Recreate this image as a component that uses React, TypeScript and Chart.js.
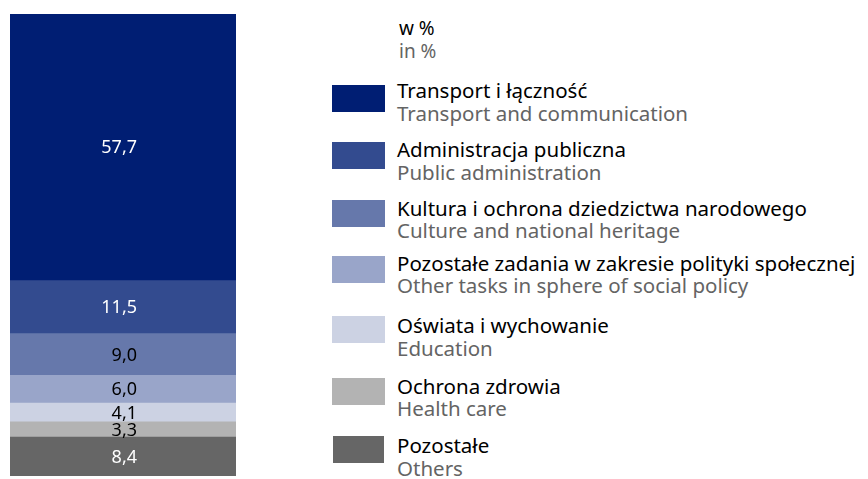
import React, { useEffect, useRef } from "react";
import { Chart, registerables } from "chart.js";

Chart.register(...registerables);

// Data, bottom to top of the stacked bar
const categoriesPl = [
  "Pozostałe",
  "Ochrona zdrowia",
  "Oświata i wychowanie",
  "Pozostałe zadania w zakresie polityki społecznej",
  "Kultura i ochrona dziedzictwa narodowego",
  "Administracja publiczna",
  "Transport i łączność",
];
const categoriesEn = [
  "Others",
  "Health care",
  "Education",
  "Other tasks in sphere of social policy",
  "Culture and national heritage",
  "Public administration",
  "Transport and communication",
];
const values = [8.4, 3.3, 4.1, 6.0, 9.0, 11.5, 57.7];
const colors = ["#666666", "#b3b3b3", "#ccd2e3", "#99a5c9", "#6678ab", "#334b8f", "#001e73"];
const labelColors = ["#ffffff", "#000000", "#000000", "#000000", "#000000", "#ffffff", "#ffffff"];
const unitPl = "w %";
const unitEn = "in %";

const FONT = "'Noto Sans', sans-serif";

// Legend layout (top to bottom), index into the arrays above
const legendOrder = [6, 5, 4, 3, 2, 1, 0];
const swatchTops = [85, 142, 200, 256, 316, 378, 436];
const baselines = [98.5, 157.5, 216, 271, 333.5, 394, 453.5];

const LF = 20.5; // legend font size
const TF = 19; // title font size

const valueLabels = {
  id: "valueLabels",
  afterDatasetsDraw(chart: any) {
    const ctx = chart.ctx;
    ctx.save();
    ctx.font = `18px ${FONT}`;
    ctx.textAlign = "right";
    ctx.textBaseline = "middle";
    chart.data.datasets.forEach((ds: any, i: number) => {
      const meta = chart.getDatasetMeta(i);
      meta.data.forEach((el: any, j: number) => {
        const v = ds.data[j];
        const cy = (el.y + el.base) / 2;
        ctx.fillStyle = labelColors[i];
        ctx.fillText(v.toFixed(1).replace(".", ","), el.x + 14, cy + 1);
      });
    });
    ctx.restore();
  },
};

function BarChart() {
  const ref = useRef<HTMLCanvasElement | null>(null);
  useEffect(() => {
    if (!ref.current) return;
    const chart = new Chart(ref.current, {
      type: "bar",
      data: {
        labels: [""],
        datasets: values.map((v, i) => ({
          label: categoriesPl[i],
          data: [v],
          backgroundColor: colors[i],
          borderWidth: 0,
          barPercentage: 1,
          categoryPercentage: 1,
        })),
      },
      options: {
        responsive: false,
        animation: false,
        devicePixelRatio: 1,
        layout: { padding: { left: 10, right: 14, top: 14, bottom: 3 } },
        plugins: { legend: { display: false }, tooltip: { enabled: false }, title: { display: false } },
        scales: {
          x: { stacked: true, display: false },
          y: { stacked: true, display: false, min: 0, max: 100 },
        },
      },
      plugins: [valueLabels],
    });
    return () => chart.destroy();
  }, []);
  return <canvas ref={ref} width={250} height={479} style={{ position: "absolute", left: 0, top: 0, width: 250, height: 479 }} />;
}

function textStyle(baseline: number, size: number, color: string, left: number): React.CSSProperties {
  return {
    position: "absolute",
    left,
    top: baseline - 0.888 * size,
    fontSize: size,
    lineHeight: `${size}px`,
    fontFamily: FONT,
    color,
    whiteSpace: "nowrap",
  };
}

export default function App() {
  return (
    <div style={{ position: "fixed", left: 0, top: 0, width: 868, height: 479, background: "#ffffff", overflow: "hidden" }}>
      <BarChart />
      <div style={textStyle(35.7, TF, "#000000", 399)}>{unitPl}</div>
      <div style={textStyle(59, TF, "#646464", 399)}>{unitEn}</div>
      {legendOrder.map((idx, r) => (
        <React.Fragment key={idx}>
          <div
            style={{
              position: "absolute",
              left: r === 6 ? 333 : 332,
              top: swatchTops[r],
              width: r === 6 ? 51 : 53,
              height: 27,
              background: colors[idx],
            }}
          />
          <div style={textStyle(baselines[r], LF, "#000000", 397)}>{categoriesPl[idx]}</div>
          <div style={textStyle(baselines[r] + 22.5, LF, "#646464", 397)}>{categoriesEn[idx]}</div>
        </React.Fragment>
      ))}
    </div>
  );
}
